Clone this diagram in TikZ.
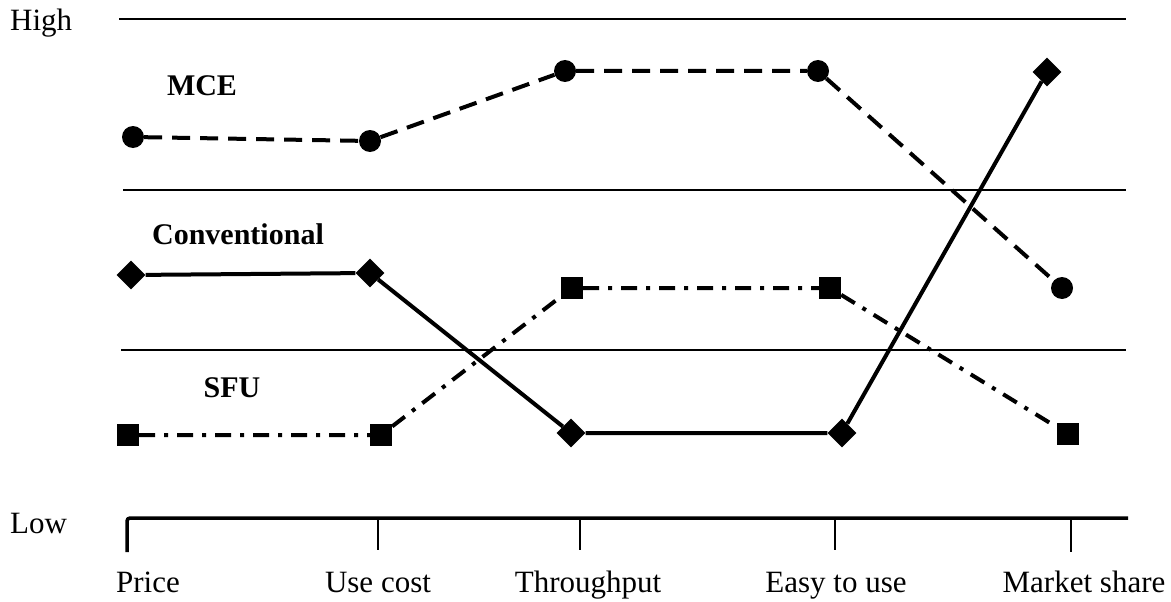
\documentclass[tikz,border=0pt]{standalone}
\usepackage{fontspec}
\setmainfont{Liberation Serif}
\usetikzlibrary{shapes.geometric}
\begin{document}
\begin{tikzpicture}[x=1pt,y=-1pt,
  gridline/.style={line width=2.5pt},
  axisline/.style={line width=3.5pt, line join=round},
  tickline/.style={line width=2.5pt},
  txt/.style={font=\fontsize{31}{35}\selectfont, inner sep=0pt},
  btxt/.style={font=\fontsize{30}{34}\selectfont\bfseries, inner sep=0pt},
  dot/.style={circle, fill=black, inner sep=0pt, minimum size=22pt},
  sq/.style={rectangle, fill=black, inner sep=0pt, minimum size=22pt},
  dia/.style={diamond, aspect=1, fill=black, inner sep=0pt, minimum size=29pt},
  mce/.style={line width=4pt, dash pattern=on 18pt off 10pt},
  conv/.style={line width=4pt},
  sfu/.style={line width=4pt, dash pattern=on 16pt off 9pt on 4pt off 9pt}]
\useasboundingbox (0,0) rectangle (1171,602);

% horizontal grid lines
\coordinate (g1a) at (119,19);  \coordinate (g1b) at (1126,19);
\coordinate (g2a) at (123,190); \coordinate (g2b) at (1126,190);
\coordinate (g3a) at (121,350); \coordinate (g3b) at (1126,350);
\draw[gridline] (g1a) -- (g1b);
\draw[gridline] (g2a) -- (g2b);
\draw[gridline] (g3a) -- (g3b);

% axis
\coordinate (t1) at (127,518); \coordinate (t1b) at (127,552);
\coordinate (ax1) at (1128,518);
\draw[axisline, rounded corners=3pt] (t1b) -- (t1) -- (ax1);
\coordinate (t2) at (378,518); \coordinate (t2b) at (378,550);
\coordinate (t3) at (580,518); \coordinate (t3b) at (580,550);
\coordinate (t4) at (835,518); \coordinate (t4b) at (835,550);
\coordinate (t5) at (1071,518); \coordinate (t5b) at (1071,552);
\foreach \t in {t2,t3,t4,t5} \draw[tickline] (\t) -- (\t b);

% side labels
\node[txt, anchor=base west] (high) at (10,31) {High};
\node[txt, anchor=base west] (low) at (10,533) {Low};

% axis labels
\node[txt, anchor=base] (lp) at (148,592) {Price};
\node[txt, anchor=base] (lu) at (378,592) {Use cost};
\node[txt, anchor=base] (lt) at (588,592) {Throughput};
\node[txt, anchor=base] (le) at (836,592) {Easy to use};
\node[txt, anchor=base] (lm) at (1084,592) {Market share};

% series labels
\node[btxt] (nmce) at (202,86) {MCE};
\node[btxt] (nconv) at (238,234) {Conventional};
\node[btxt] (nsfu) at (232,388) {SFU};

% MCE
\node[dot] (m1) at (133,137) {};
\node[dot] (m2) at (370,141) {};
\node[dot] (m3) at (565,71) {};
\node[dot] (m4) at (818,71) {};
\node[dot] (m5) at (1062,288) {};
\draw[mce] (m1) -- (m2) -- (m3) -- (m4) -- (m5);

% Conventional
\node[dia] (c1) at (131,275) {};
\node[dia] (c2) at (370,273) {};
\node[dia] (c3) at (571,433) {};
\node[dia] (c4) at (842,433) {};
\node[dia] (c5) at (1047,72) {};
\draw[conv] (c1) -- (c2) -- (c3) -- (c4) -- (c5);

% SFU
\node[sq] (s1) at (128,435) {};
\node[sq] (s2) at (381,435) {};
\node[sq] (s3) at (572,288) {};
\node[sq] (s4) at (830,288) {};
\node[sq] (s5) at (1068,434) {};
\draw[sfu] (s1) -- (s2) -- (s3) -- (s4) -- (s5);
\end{tikzpicture}
\end{document}
